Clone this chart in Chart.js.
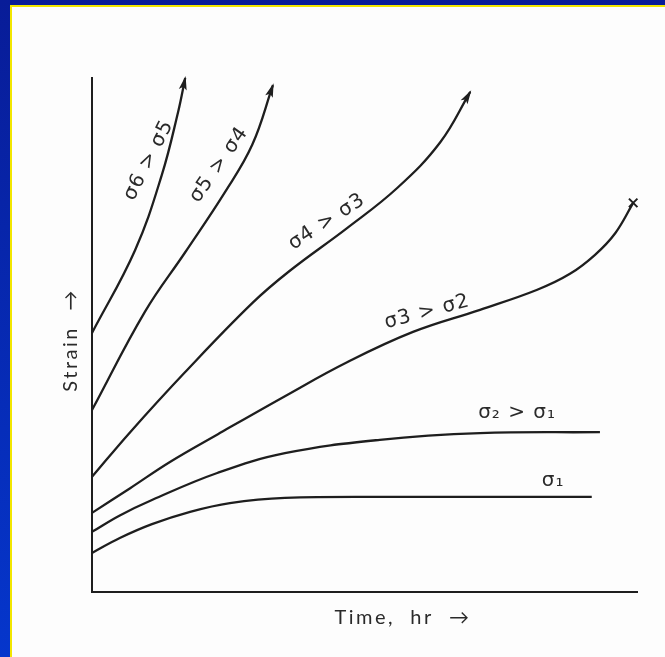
<!DOCTYPE html>
<html lang="en">
<head>
    <meta charset="UTF-8">
    <title>Creep curves</title>
    <script src="https://cdn.jsdelivr.net/npm/chart.js"></script>
    <style>
        html, body {
            margin: 0;
            padding: 0;
            width: 665px;
            height: 657px;
            overflow: hidden;
            background: linear-gradient(#081c98, #0536cc);
        }
        .frame {
            position: absolute;
            left: 10px;
            top: 5px;
            right: 0;
            bottom: 0;
            background: #fdfdfd;
            border-left: 2px solid #f2e600;
            border-top: 2px solid #f2e600;
        }
        #chart {
            position: absolute;
            left: 0;
            top: 0;
        }
    </style>
</head>
<body>
    <div class="frame"></div>
    <canvas id="chart" width="665" height="657"></canvas>

    <script>
        // curve values (time and strain, arbitrary units 0-100)
        const sigma1Time   = [0, 5.1, 11.0, 18.0, 25.3, 35.4, 56.5, 91.7];
        const sigma1Strain = [7.6, 10.5, 13.2, 15.6, 17.3, 18.3, 18.5, 18.5];

        const sigma2Time   = [0, 5.1, 11.0, 23.1, 35.4, 52.8, 71.2, 93.2];
        const sigma2Strain = [11.7, 14.9, 17.9, 23.2, 27.0, 29.6, 30.9, 31.1];

        const sigma3Time   = [0, 7.0, 14.3, 23.1, 35.4, 46.8, 58.9, 71.2, 81.7, 87.7, 92.3, 96.0, 99.3];
        const sigma3Strain = [15.4, 20.2, 25.3, 30.7, 38.1, 44.7, 50.6, 54.9, 58.8, 61.9, 65.6, 69.8, 75.7];

        const sigma4Time   = [0, 7.0, 17.1, 29.4, 36.3, 46.8, 56.0, 63.9, 69.4];
        const sigma4Strain = [22.4, 31.1, 42.8, 56.2, 62.5, 70.8, 78.6, 87.5, 97.3];

        const sigma5Time   = [0, 9.7, 17.1, 24.4, 29.4, 33.2];
        const sigma5Strain = [35.4, 54.5, 66.1, 77.8, 87.0, 98.6];

        const sigma6Time   = [0, 7.9, 12.8, 15.8, 17.1];
        const sigma6Strain = [50.4, 66.5, 81.1, 93.4, 100];

        const curveLabels = ['σ6 > σ5', 'σ5 > σ4', 'σ4 > σ3', 'σ3 > σ2', 'σ₂ > σ₁', 'σ₁'];
        const labelTime   = [10.4, 23.3, 43.1, 61.5, 78.0, 84.6];
        const labelStrain = [84.0, 83.1, 72.0, 54.5, 34.8, 21.6];
        const labelAngle  = [-63, -55, -33, -15, 0, 0];

        const xTitle = 'Time,  hr  →';
        const yTitle = 'Strain  →';

        const ink = '#1e1e1e';

        function toPoints(xs, ys) {
            return xs.map((x, i) => ({ x: x, y: ys[i] }));
        }

        // end marks: arrow heads or a cross for rupture
        function curve(xs, ys, end) {
            const n = xs.length;
            return {
                data: toPoints(xs, ys),
                borderColor: ink,
                borderWidth: 2.3,
                tension: 0.4,
                pointRadius: xs.map((x, i) => (end === 'cross' && i === n - 1) ? 6 : 0),
                pointStyle: 'crossRot',
                pointBorderColor: ink,
                pointBorderWidth: 2,
                clip: false,
                arrow: end === 'arrow'
            };
        }

        const arrowPlugin = {
            id: 'arrowHeads',
            afterDatasetsDraw(chart) {
                const ctx = chart.ctx;
                chart.data.datasets.forEach((ds, i) => {
                    if (!ds.arrow) return;
                    const pts = chart.getDatasetMeta(i).data;
                    const a = pts[pts.length - 2];
                    const b = pts[pts.length - 1];
                    const ang = Math.atan2(b.y - a.y, b.x - a.x);
                    ctx.save();
                    ctx.translate(b.x, b.y);
                    ctx.rotate(ang);
                    ctx.fillStyle = ink;
                    ctx.beginPath();
                    ctx.moveTo(2, 0);
                    ctx.lineTo(-12, -4);
                    ctx.lineTo(-9, 0);
                    ctx.lineTo(-12, 4);
                    ctx.closePath();
                    ctx.fill();
                    ctx.restore();
                });
            }
        };

        const textPlugin = {
            id: 'curveText',
            afterDraw(chart) {
                const ctx = chart.ctx;
                const xs = chart.scales.x;
                const ys = chart.scales.y;
                const area = chart.chartArea;
                ctx.save();
                ctx.fillStyle = '#2a2a2a';
                ctx.textAlign = 'center';
                ctx.textBaseline = 'middle';
                ctx.font = '20px "DejaVu Sans"';
                ctx.letterSpacing = '1px';
                curveLabels.forEach((t, i) => {
                    ctx.save();
                    ctx.translate(xs.getPixelForValue(labelTime[i]), ys.getPixelForValue(labelStrain[i]));
                    ctx.rotate(labelAngle[i] * Math.PI / 180);
                    ctx.fillText(t, 0, 0);
                    ctx.restore();
                });

                // axis titles
                ctx.font = '20px Lato';
                ctx.letterSpacing = '2.5px';
                ctx.fillStyle = '#2a2a2a';
                ctx.fillText(xTitle, area.left + 311, area.bottom + 26);
                ctx.save();
                ctx.translate(area.left - 21, area.top + 262);
                ctx.rotate(-Math.PI / 2);
                ctx.fillText(yTitle, 0, 0);
                ctx.restore();
                ctx.restore();
            }
        };

        new Chart(document.getElementById('chart'), {
            type: 'line',
            data: {
                datasets: [
                    curve(sigma1Time, sigma1Strain, 'none'),
                    curve(sigma2Time, sigma2Strain, 'none'),
                    curve(sigma3Time, sigma3Strain, 'cross'),
                    curve(sigma4Time, sigma4Strain, 'arrow'),
                    curve(sigma5Time, sigma5Strain, 'arrow'),
                    curve(sigma6Time, sigma6Strain, 'arrow')
                ]
            },
            options: {
                responsive: false,
                animation: false,
                layout: {
                    padding: { left: 92, top: 78, right: 28, bottom: 65 }
                },
                plugins: {
                    legend: { display: false },
                    tooltip: { enabled: false }
                },
                scales: {
                    x: {
                        type: 'linear',
                        min: 0,
                        max: 100,
                        grid: { display: false, drawTicks: false },
                        ticks: { display: false },
                        border: { display: true, color: ink, width: 2 }
                    },
                    y: {
                        min: 0,
                        max: 100,
                        grid: { display: false, drawTicks: false },
                        ticks: { display: false },
                        border: { display: true, color: ink, width: 2 }
                    }
                }
            },
            plugins: [arrowPlugin, textPlugin]
        });
    </script>
</body>
</html>
